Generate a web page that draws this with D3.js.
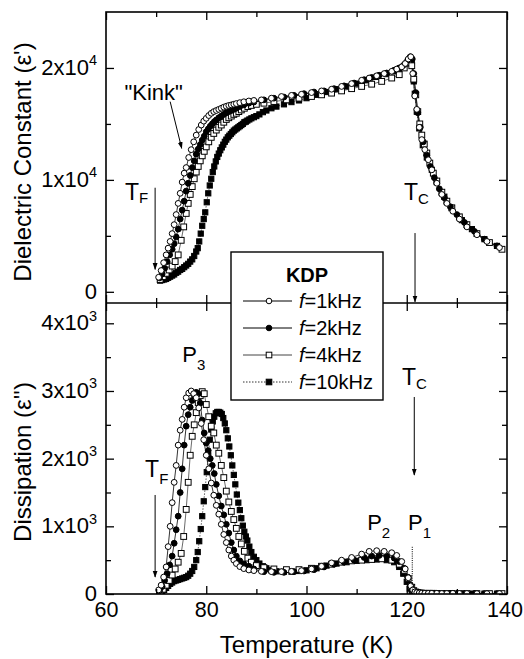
<!DOCTYPE html>
<html><head><meta charset="utf-8">
<script src="https://cdn.jsdelivr.net/npm/d3@7"></script>
<style>body{margin:0;background:#fff} svg text{font-family:"Liberation Sans",Arial,sans-serif;fill:#000}</style>
</head><body><svg id="c" width="524" height="659"></svg>
<script>
// ---------- DATA ----------
const T1=[70.5,71.0,71.5,72.0,72.4,72.8,73.2,73.6,74.0,74.4,74.8,75.2,75.6,76.0,76.5,77.0,77.5,78.0,78.5,79.0,79.5,80.0,80.5,81.0,81.5,82.0,82.5,83.0,83.5,84.0,84.5,85.0,85.5,86.0,86.7,87.5,88.5,89.5,91,93,95,97,99,101,103,105,107,109,111,112.5,114,115.5,117,118,119,119.7,120.3,120.8,121.2,121.6,122.0,122.5,123,123.6,124.3,125,126,127,128,129.2,130.5,132,134,136,138.5];
const E1_1=[1300,1900,2600,3300,3900,4500,5200,6000,6900,7900,8800,9800,10600,11100,12000,12700,13400,14000,14500,14900,15250,15500,15750,15950,16100,16200,16300,16400,16500,16580,16650,16700,16760,16820,16900,16980,17050,17100,17150,17300,17450,17550,17650,17800,17950,18100,18350,18600,18900,19100,19300,19500,19700,19900,20100,20400,20800,21000,19500,17500,16300,14700,13600,12700,11800,10900,9700,8700,7900,7200,6500,5800,5100,4500,3950];
const E2_1=[60,130,250,400,700,1000,1350,1650,1900,2200,2420,2580,2760,2900,2970,3000,2960,2900,2750,2520,2280,2050,1850,1640,1460,1310,1180,1030,880,760,650,560,500,450,405,375,355,345,335,330,330,335,345,370,410,460,500,540,590,630,640,630,610,570,480,370,240,120,60,30,20,15,12,10,10,10,10,8,8,10,8,8,6,6,6];

const T2=[70.7,71.2,71.7,72.2,72.7,73.2,73.6,74.0,74.4,74.8,75.2,75.6,76.0,76.4,76.8,77.2,77.6,78.0,78.4,78.8,79.2,79.6,80.0,80.4,80.8,81.2,81.6,82.0,82.5,83.0,83.5,84.0,84.5,85.0,85.5,86.0,86.7,87.5,88.5,89.5,91.5,93.5,95.5,97.5,99.5,101.5,103.5,105.5,107.5,109.5,111.5,113,114.5,116,117.5,118.5,119.5,120.2,120.7,121.1,121.4,121.8,122.2,122.7,123.3,124,124.7,125.5,126.5,127.5,128.7,130,131.5,133.5,135.5,138];
const E1_2=[1250,1600,2100,2700,3300,3800,4300,4900,5600,6500,7300,8100,9000,9700,10400,11100,11700,12300,12750,13150,13550,13900,14300,14550,14800,15000,15200,15350,15550,15700,15850,16000,16100,16200,16300,16400,16550,16700,16850,16950,17150,17300,17400,17550,17700,17850,17950,18150,18400,18650,18950,19150,19350,19550,19800,20000,20300,20700,21000,20800,19500,17800,16000,14700,13400,12200,11200,10200,9200,8400,7600,6900,6200,5400,4700,4100];
const E2_2=[50,110,200,300,430,560,750,950,1150,1500,1850,2200,2480,2650,2760,2860,2940,2980,2960,2820,2570,2380,2230,2120,2000,1900,1780,1620,1450,1300,1170,1030,900,760,650,560,490,445,410,370,330,320,320,330,340,360,400,440,470,500,540,560,570,560,530,480,380,250,130,60,35,25,20,15,12,10,10,10,8,8,8,8,6,6,6,6];

const T4=[70.8,71.4,72.0,72.6,73.2,73.8,74.4,75.0,75.5,76.0,76.4,76.8,77.2,77.6,78.0,78.4,78.8,79.2,79.6,80.0,80.5,81.0,81.5,82.0,82.5,83.0,83.5,84.0,84.5,85.0,85.5,86.0,86.5,87.0,87.6,88.3,89.0,90.0,91.5,93.5,96,98.5,101,103,105,107,109,111,113,115,117,118.5,119.5,120.3,121.0,121.4,121.8,122.2,122.6,123.0,123.5,124.0,124.6,125.3,126.0,127.0,128.0,129.0,130.5,132,134,136.5,139];
const E1_4=[1100,1350,1650,1950,2300,2700,3300,4600,5800,7000,7900,8700,9400,10100,10700,11200,11700,12150,12550,12950,13400,13800,14150,14450,14700,14900,15150,15400,15550,15700,15850,15950,16100,16250,16400,16550,16650,16750,16850,17000,17150,17300,17450,17600,17750,17950,18150,18350,18550,18800,19100,19400,20000,20500,20200,19000,17600,16100,15000,14000,13200,12400,11500,10600,9900,8900,8100,7500,6700,6000,5200,4400,3800];
const E2_4=[30,70,130,200,280,370,470,600,850,1250,1650,2050,2330,2500,2680,2830,2930,2990,2960,2800,2620,2480,2380,2200,2080,1900,1720,1520,1360,1220,1100,970,850,740,630,530,470,420,390,370,360,360,380,410,440,470,490,500,510,520,500,440,350,230,100,50,30,20,15,12,10,10,10,10,8,8,8,8,6,6,6,6,6];

const T10=[70.8,71.2,71.6,72.0,72.4,72.8,73.2,73.6,74.0,74.4,74.8,75.2,75.6,76.0,76.4,76.8,77.2,77.6,78.0,78.3,78.6,78.9,79.2,79.5,79.8,80.1,80.4,80.7,81.0,81.3,81.6,81.9,82.2,82.5,82.8,83.1,83.4,83.7,84.0,84.3,84.6,84.9,85.2,85.5,85.8,86.1,86.4,86.7,87.0,87.3,87.6,87.9,88.2,88.6,89.0,89.5,90.0,90.6,91.3,92.0,93,94,95.5,97,98.5,100,102,104,106,108,110,112,114,116,117.5,118.5,119.3,120.0,120.6,121.0,121.4,121.6,122.0,122.5,123.2,124,125,126,127.5,129,131,133,135.5,138];
const E1_10=[1000,1050,1100,1150,1250,1350,1450,1550,1700,1800,1950,2050,2200,2350,2500,2700,2900,3200,3600,3900,4500,5200,5900,6500,7100,8000,8800,9500,10100,10700,11200,11650,12050,12350,12650,12900,13150,13400,13600,13800,13950,14100,14250,14400,14500,14600,14700,14800,14900,15000,15150,15200,15300,15400,15500,15600,15700,15850,16050,16200,16400,16550,16750,16950,17100,17300,17600,17850,18100,18350,18600,18900,19200,19450,19700,19900,20100,20400,20700,20600,18800,17700,16100,14600,13100,12000,10900,9800,8500,7500,6400,5600,4700,4100];
const E2_10=[20,40,60,90,120,150,170,190,200,210,220,230,240,250,270,300,340,400,500,620,780,960,1150,1370,1580,1800,2050,2280,2430,2550,2620,2670,2690,2690,2680,2660,2600,2520,2420,2300,2180,2050,1900,1760,1620,1470,1350,1240,1120,1010,920,850,790,700,620,550,500,450,410,380,350,335,330,330,340,350,380,420,450,470,490,500,510,500,470,400,300,180,80,40,25,20,15,12,10,10,10,8,8,8,6,6,6,6];
// P1 spike of the 10 kHz trace
const P1_T=[121.1,121.1];
const P1_V=[0,700];

const seriesNames=["1kHz","2kHz","4kHz","10kHz"];
const xMajor=[60,80,100,120,140];
const xMinor=[70,90,110,130];
const yUMajor=[0,10000,20000];
const yUMinor=[5000,15000];
const yLMajor=[0,1000,2000,3000,4000];
const yLMinor=[500,1500,2500,3500];

// ---------- LAYOUT ----------
const svg=d3.select("#c");
const L=106,R=507,TOP=12,MID=303,BOT=594;
const x=d3.scaleLinear([60,140],[L,R]);
const yU=d3.scaleLinear([-1000,25000],[MID,TOP]);
const yL=d3.scaleLinear([0,4300],[BOT,MID]);

const styles=[
 {T:T1,e1:E1_1,e2:E2_1,shape:"circle",fill:"#fff",stroke:"#000",dash:null,lw:0.8},
 {T:T2,e1:E1_2,e2:E2_2,shape:"circle",fill:"#000",stroke:"#000",dash:null,lw:0.8},
 {T:T4,e1:E1_4,e2:E2_4,shape:"square",fill:"#fff",stroke:"#444",dash:null,lw:0.8},
 {T:T10,e1:E1_10,e2:E2_10,shape:"square",fill:"#000",stroke:"#333",dash:"1.5,1.5",lw:0.8}
];

const defs=svg.append("defs");
defs.append("clipPath").attr("id","cu").append("rect").attr("x",L).attr("y",TOP).attr("width",R-L).attr("height",MID-TOP);
defs.append("clipPath").attr("id","cl").append("rect").attr("x",L).attr("y",MID).attr("width",R-L).attr("height",BOT-MID);
defs.append("marker").attr("id","ah").attr("viewBox","0 0 10 10").attr("refX",9).attr("refY",5)
  .attr("markerWidth",7).attr("markerHeight",7).attr("markerUnits","userSpaceOnUse").attr("orient","auto")
  .append("path").attr("d","M0,1.5 L10,5 L0,8.5 Z").attr("fill","#000");

function drawPanel(key,y,clip){
  const g=svg.append("g").attr("clip-path",`url(#${clip})`);
  const order=[3,2,1,0];
  order.forEach(i=>{
    const s=styles[i];
    const pts=s.T.map((t,j)=>[t,s[key][j]]);
    g.append("path").attr("d",d3.line().x(d=>x(d[0])).y(d=>y(d[1]))(pts))
      .attr("fill","none").attr("stroke",s.stroke).attr("stroke-width",s.lw)
      .attr("stroke-dasharray",s.dash);
  });
  order.forEach(i=>{
    const s=styles[i];
    const pts=s.T.map((t,j)=>[t,s[key][j]]);
    if(s.shape==="circle"){
      g.selectAll(null).data(pts).join("circle")
        .attr("cx",d=>x(d[0])).attr("cy",d=>y(d[1])).attr("r",2.9)
        .attr("fill",s.fill).attr("stroke","#000").attr("stroke-width",1);
    } else {
      const sz=i===3?5.2:5.8;
      g.selectAll(null).data(pts).join("rect")
        .attr("x",d=>x(d[0])-sz/2).attr("y",d=>y(d[1])-sz/2).attr("width",sz).attr("height",sz)
        .attr("fill",s.fill).attr("stroke","#000").attr("stroke-width",1);
    }
  });
  return g;
}
drawPanel("e1",yU,"cu");
const gLow=drawPanel("e2",yL,"cl");
gLow.append("path").attr("d",d3.line().x(d=>x(d[0])).y(d=>yL(d[1]))(P1_T.map((t,j)=>[t,P1_V[j]])))
  .attr("fill","none").attr("stroke","#000").attr("stroke-width",1).attr("stroke-dasharray","1,1.2");

// ---------- AXES ----------
function styleAxis(g){
  g.select(".domain").remove();
  g.selectAll("line").attr("stroke","#000").attr("stroke-width",1.3);
  g.attr("font-size",null).attr("font-family",null);
}
function sci(v,exp){
  if(v===0) return [["0",0]];
  return [[(v/Math.pow(10,exp))+"x10",0],[String(exp),1]];
}
function yAxis(scale,major,minor,exp){
  const ga=svg.append("g").attr("transform",`translate(${L},0)`)
    .call(d3.axisLeft(scale).tickValues(major).tickSizeInner(-8).tickSizeOuter(0).tickPadding(9).tickFormat(()=>""));
  styleAxis(ga);
  ga.selectAll(".tick text").each(function(d){
    const t=d3.select(this).attr("font-size",22).attr("dy",null).attr("y",6.5);
    sci(d,exp).forEach(([s,sup])=>{
      if(sup) t.append("tspan").attr("font-size",14.5).attr("dy",-9.5).text(s);
      else t.append("tspan").text(s);
    });
  });
  styleAxis(svg.append("g").attr("transform",`translate(${L},0)`)
    .call(d3.axisLeft(scale).tickValues(minor).tickSizeInner(-5).tickSizeOuter(0).tickFormat(()=>"")));
  styleAxis(svg.append("g").attr("transform",`translate(${R},0)`)
    .call(d3.axisRight(scale).tickValues(major).tickSizeInner(-8).tickSizeOuter(0).tickFormat(()=>"")));
  styleAxis(svg.append("g").attr("transform",`translate(${R},0)`)
    .call(d3.axisRight(scale).tickValues(minor).tickSizeInner(-5).tickSizeOuter(0).tickFormat(()=>"")));
}
yAxis(yU,yUMajor,yUMinor,4);
yAxis(yL,yLMajor,yLMinor,3);

function xTicks(yPos,dir){
  const ax=dir==="top"?d3.axisTop:d3.axisBottom;
  styleAxis(svg.append("g").attr("transform",`translate(0,${yPos})`)
    .call(ax(x).tickValues(xMajor).tickSizeInner(-8).tickSizeOuter(0).tickFormat(()=>"")));
  styleAxis(svg.append("g").attr("transform",`translate(0,${yPos})`)
    .call(ax(x).tickValues(xMinor).tickSizeInner(-5).tickSizeOuter(0).tickFormat(()=>"")));
}
xTicks(TOP,"top");
xTicks(MID,"bottom");
xTicks(MID,"top");
const gxb=svg.append("g").attr("transform",`translate(0,${BOT})`)
  .call(d3.axisBottom(x).tickValues(xMajor).tickSizeInner(-8).tickSizeOuter(0).tickPadding(9).tickFormat(d3.format("d")));
styleAxis(gxb);
gxb.selectAll(".tick text").attr("font-size",21.5).attr("dy",null).attr("y",23)
  .attr("dx",d=>d===140?-2.5:0);
styleAxis(svg.append("g").attr("transform",`translate(0,${BOT})`)
  .call(d3.axisBottom(x).tickValues(xMinor).tickSizeInner(-5).tickSizeOuter(0).tickFormat(()=>"")));

// frames
svg.append("rect").attr("x",L).attr("y",TOP).attr("width",R-L).attr("height",BOT-TOP)
  .attr("fill","none").attr("stroke","#000").attr("stroke-width",1.6);
svg.append("line").attr("x1",L).attr("x2",R).attr("y1",MID).attr("y2",MID)
  .attr("stroke","#000").attr("stroke-width",1.6);

// axis titles
svg.append("text").attr("transform","translate(31,162) rotate(-90)").attr("text-anchor","middle")
  .attr("font-size",24).text("Dielectric Constant (ε')");
svg.append("text").attr("transform","translate(31,462) rotate(-90)").attr("text-anchor","middle")
  .attr("font-size",24).text("Dissipation (ε'')");
svg.append("text").attr("x",x(100)).attr("y",653).attr("text-anchor","middle")
  .attr("font-size",24).text("Temperature (K)");

// ---------- ANNOTATIONS ----------
function subText(xp,yp,main,sub,fs,sfs,dy){
  const t=svg.append("text").attr("x",xp).attr("y",yp).attr("font-size",fs);
  t.append("tspan").text(main);
  t.append("tspan").attr("font-size",sfs).attr("dy",dy).text(sub);
}
function arrow(x1,y1,x2,y2){
  svg.append("line").attr("x1",x1).attr("y1",y1).attr("x2",x2).attr("y2",y2)
    .attr("stroke","#000").attr("stroke-width",1).attr("marker-end","url(#ah)");
}
subText(x(63.8),yU(8200),"T","F",23,15,3);
arrow(x(69.8),yU(9300),x(69.8),yU(2000));
svg.append("text").attr("x",x(69.5)).attr("y",yU(17140)).attr("text-anchor","middle").attr("font-size",22).text('"Kink"');
arrow(x(72.8),yU(16990),x(75.1),yU(12820));
subText(x(119.45),yU(8200),"T","C",23,15,4);
arrow(x(121.65),yU(5250),x(121.65),yU(-900));
subText(x(75.2),yL(3433),"P","3",22,15,8);
subText(x(119.05),yL(3088),"T","C",23,15,4);
arrow(x(121.5),yL(2911),x(121.5),yL(1758));
subText(x(67.8),yL(1729),"T","F",23,15,7);
arrow(x(69.8),yL(1463),x(69.8),yL(251));
subText(x(112.1),yL(946),"P","2",22,15,8);
subText(x(120.25),yL(946),"P","1",22,15,8);

// ---------- LEGEND ----------
const lg=svg.append("g");
lg.append("rect").attr("x",231).attr("y",252).attr("width",152).attr("height",148)
  .attr("fill","#fff").attr("stroke","#000").attr("stroke-width",1.4);
lg.append("text").attr("x",307).attr("y",282).attr("text-anchor","middle").attr("font-size",20)
  .attr("font-weight","bold").text("KDP");
styles.forEach((s,i)=>{
  const by=308+i*27, ly=by-7;
  lg.append("line").attr("x1",243).attr("x2",292).attr("y1",ly).attr("y2",ly)
    .attr("stroke",s.stroke).attr("stroke-width",1).attr("stroke-dasharray",s.dash);
  if(s.shape==="circle") lg.append("circle").attr("cx",269).attr("cy",ly).attr("r",2.8)
    .attr("fill",s.fill).attr("stroke","#000");
  else lg.append("rect").attr("x",269-2.8).attr("y",ly-2.8).attr("width",5.6).attr("height",5.6)
    .attr("fill",s.fill).attr("stroke","#000");
  const t=lg.append("text").attr("x",299).attr("y",by).attr("font-size",20);
  t.append("tspan").attr("font-style","italic").text("f");
  t.append("tspan").text("="+seriesNames[i]);
});
</script>
</body></html>
